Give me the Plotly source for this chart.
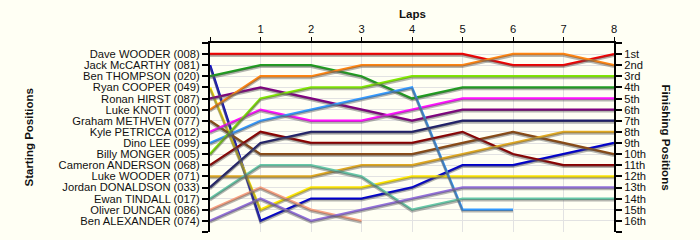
import plotly.graph_objects as go

laps = [0, 1, 2, 3, 4, 5, 6, 7, 8]
lap_labels = ["", "1", "2", "3", "4", "5", "6", "7", "8"]

drivers = [
    "Dave WOODER (008)", "Jack McCARTHY (081)", "Ben THOMPSON (020)", "Ryan COOPER (049)",
    "Ronan HIRST (087)", "Luke KNOTT (000)", "Graham METHVEN (077)", "Kyle PETRICCA (012)",
    "Dino LEE (099)", "Billy MONGER (005)", "Cameron ANDERSON (068)", "Luke WOODER (071)",
    "Jordan DONALDSON (033)", "Ewan TINDALL (017)", "Oliver DUNCAN (086)", "Ben ALEXANDER (074)",
]
finish_labels = ["1st", "2nd", "3rd", "4th", "5th", "6th", "7th", "8th",
                 "9th", "10th", "11th", "12th", "13th", "14th", "15th", "16th"]

dave_wooder     = [1, 1, 1, 1, 1, 1, 2, 2, 1]
jack_mccarthy   = [2, 16, 14, 14, 13, 11, 11, 10, 9]
ben_thompson    = [3, 2, 2, 3, 5, 4, 4, 4, 4]
ryan_cooper     = [4, 15, 13, 13, 12, 12, 12, 12, 12]
ronan_hirst     = [5, 4, 5, 6, 7, 6, 6, 6, 6]
luke_knott      = [6, 3, 3, 2, 2, 2, 1, 1, 2]
graham_methven  = [7, 10, 10, 10, 10, 9, 8, 9, 10]
kyle_petricca   = [8, 6, 7, 7, 6, 5, 5, 5, 5]
dino_lee        = [9, 7, 6, 5, 4, 15, 15, None, None]
billy_monger    = [10, 5, 4, 4, 3, 3, 3, 3, 3]
cameron_anderson = [11, 8, 9, 9, 9, 8, 10, 11, 11]
luke_wooder     = [12, 12, 12, 11, 11, 10, 9, 8, 8]
jordan_donaldson = [13, 9, 8, 8, 8, 7, 7, 7, 7]
ewan_tindall    = [14, 11, 11, 12, 15, 14, 14, 14, 14]
oliver_duncan   = [15, 13, 15, 16, None, None, None, None, None]
ben_alexander   = [16, 14, 16, 15, 14, 13, 13, 13, 13]

series = [dave_wooder, jack_mccarthy, ben_thompson, ryan_cooper, ronan_hirst, luke_knott,
          graham_methven, kyle_petricca, dino_lee, billy_monger, cameron_anderson,
          luke_wooder, jordan_donaldson, ewan_tindall, oliver_duncan, ben_alexander]
colors = ["#f00000", "#0000cc", "#1e9e1e", "#ffe800", "#800080", "#ff8410", "#8b4a13",
          "#ff10ff", "#3399ff", "#80e800", "#8b0000", "#e0a820", "#1f1f6a", "#66c8a8",
          "#f8a080", "#9370db"]

BG = "#fffff4"
fig = go.Figure()

# shadows
for vals in series:
    fig.add_trace(go.Scatter(x=laps, y=vals, mode="lines", yaxis="y2",
                             line=dict(color="rgba(90,90,90,0.45)", width=2.5),
                             hoverinfo="skip", showlegend=False))
for name, vals, c in zip(drivers, series, colors):
    fig.add_trace(go.Scatter(x=laps, y=vals, mode="lines", name=name,
                             line=dict(color=c, width=2.5), showlegend=False))

pos_vals = list(range(0, 18))
left_text = [""] + drivers + [""]
right_text = [""] + finish_labels + [""]

FAM = "Liberation Sans, Arial"
font = dict(family=FAM, size=11.2, color="#111")
tfont = dict(family=FAM, size=11.5, color="#111")
du = 0.14

fig.update_layout(
    width=700, height=240,
    margin=dict(l=210, r=86, t=43, b=8),
    paper_bgcolor=BG, plot_bgcolor=BG,
    font=font,
    xaxis=dict(range=[0, 8], side="top", tickvals=laps, ticktext=lap_labels,
               showgrid=True, gridcolor="#e2e2e2", gridwidth=1,
               showline=True, linecolor="black", linewidth=2,
               ticks="outside", ticklen=4, tickcolor="black", tickwidth=1,
               zeroline=False, tickfont=font),
    yaxis=dict(range=[17, 0], tickvals=pos_vals, ticktext=left_text,
               showgrid=True, gridcolor="#e2e2e2", gridwidth=1,
               showline=True, linecolor="black", linewidth=2,
               ticks="outside", ticklen=6, tickcolor="black", tickwidth=1.5,
               zeroline=False, tickfont=font),
    yaxis2=dict(range=[17 - du, -du], overlaying="y", visible=False),
    yaxis3=dict(range=[17, 0], overlaying="y", side="right", anchor="x",
                tickvals=pos_vals, ticktext=right_text,
                showline=True, linecolor="black", linewidth=2,
                ticks="outside", ticklen=6, tickcolor="black", tickwidth=1.5,
                showgrid=False, zeroline=False, tickfont=font),
    annotations=[
        dict(text="<b>Laps</b>", x=0.5, y=1, xref="paper", yref="paper",
             xanchor="center", yanchor="middle", yshift=29,
             showarrow=False, font=tfont),
        dict(text="<b>Starting Positions</b>", x=0, y=0.5, xref="paper", yref="paper",
             xanchor="center", yanchor="middle", xshift=-182,
             showarrow=False, textangle=-90, font=tfont),
        dict(text="<b>Finishing Positions</b>", x=1, y=0.5, xref="paper", yref="paper",
             xanchor="center", yanchor="middle", xshift=52,
             showarrow=False, textangle=90, font=tfont),
    ],
)
# dummy trace to show right axis
fig.add_trace(go.Scatter(x=[None], y=[None], yaxis="y3", showlegend=False, hoverinfo="skip"))

fig.write_html("out.html")
